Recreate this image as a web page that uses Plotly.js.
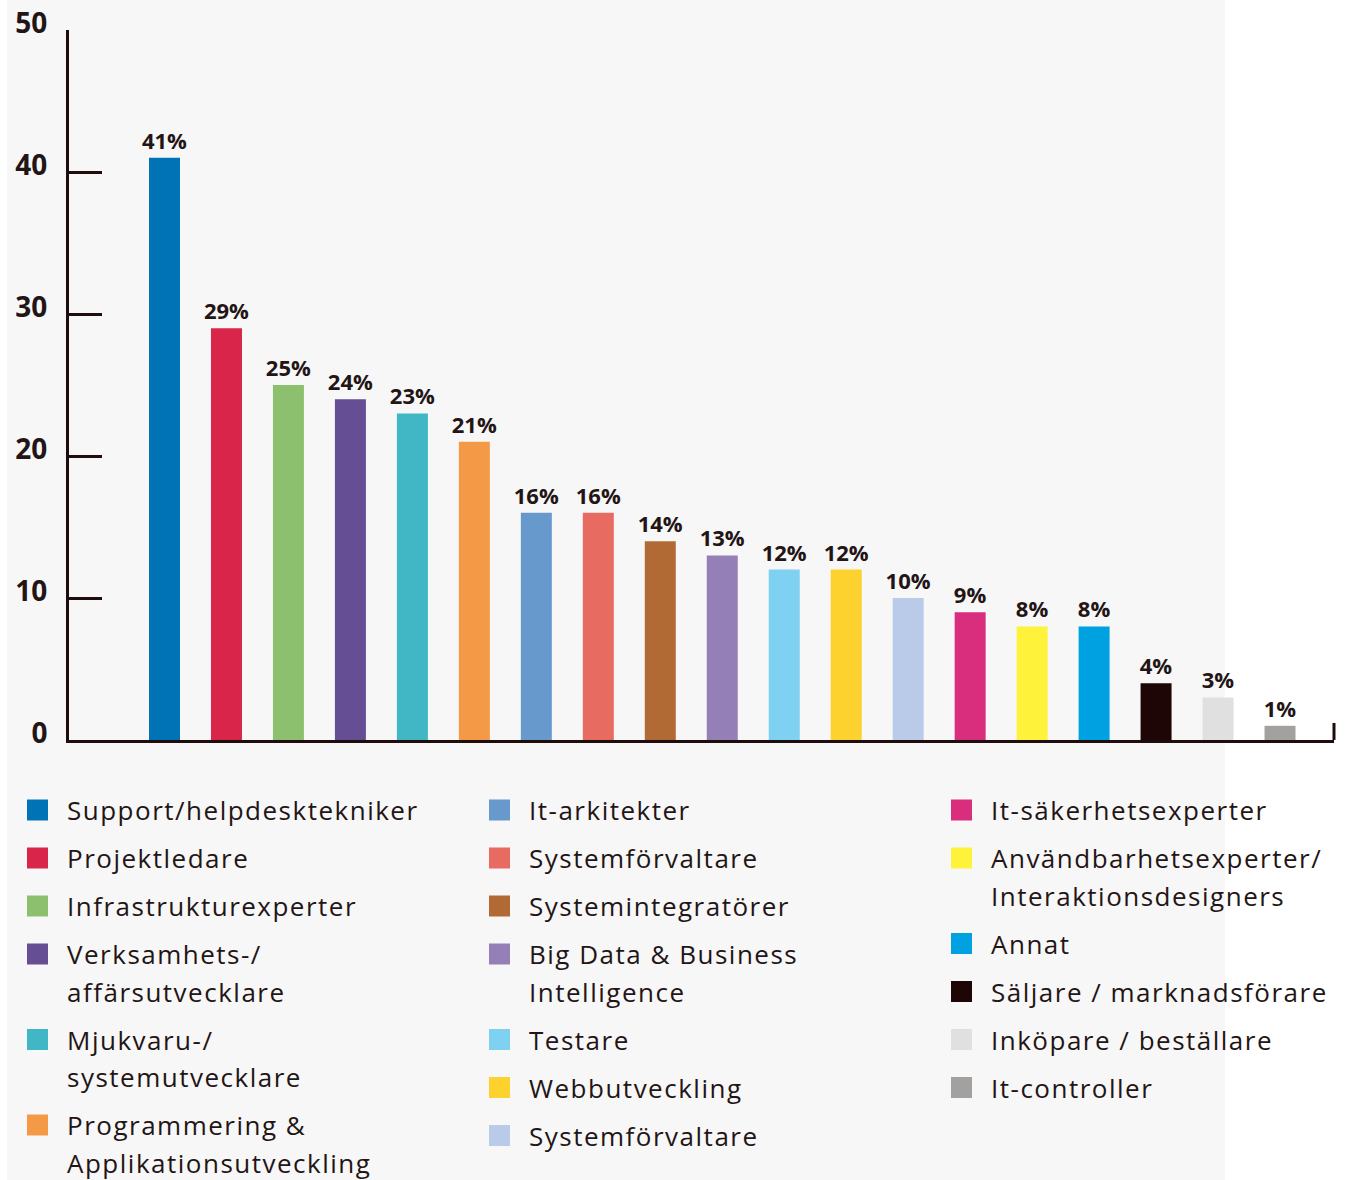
<!DOCTYPE html>
<html>
<head>
<meta charset="utf-8">
<script src="https://cdn.plot.ly/plotly-3.0.1.min.js"></script>
<style>
  html, body { margin: 0; padding: 0; background: #ffffff; }
  #chart { width: 1349px; height: 1180px; }
  .annotation-text { letter-spacing: 1.5px; }
</style>
</head>
<body>
<div id="chart"></div>
<script>
// ---- data ----
var categories = [
  "Support/helpdesktekniker",
  "Projektledare",
  "Infrastrukturexperter",
  "Verksamhets-/<br>affärsutvecklare",
  "Mjukvaru-/<br>systemutvecklare",
  "Programmering &<br>Applikationsutveckling",
  "It-arkitekter",
  "Systemförvaltare",
  "Systemintegratörer",
  "Big Data & Business<br>Intelligence",
  "Testare",
  "Webbutveckling",
  "Systemförvaltare",
  "It-säkerhetsexperter",
  "Användbarhetsexperter/<br>Interaktionsdesigners",
  "Annat",
  "Säljare / marknadsförare",
  "Inköpare / beställare",
  "It-controller"
];
var values = [41, 29, 25, 24, 23, 21, 16, 16, 14, 13, 12, 12, 10, 9, 8, 8, 4, 3, 1];
var colors = [
  "#0072b6", "#d9254a", "#8cc06f", "#654e93", "#41b7c5", "#f49a46",
  "#6799cc", "#e86b62", "#b26a35", "#9480b7", "#7fd1f2", "#fdd12e",
  "#b9cbe8", "#d92d7e", "#fff23a", "#00a1e0", "#1f0606", "#e0e0e0", "#a3a19f"
];
var legendColumn = [0, 0, 0, 0, 0, 0, 1, 1, 1, 1, 1, 1, 1, 2, 2, 2, 2, 2, 2];
var yTicks = [0, 10, 20, 30, 40, 50];

// ---- layout geometry ----
var W = 1349, H = 1180;
var mL = 69, mR = 15, mT = 30, mB = 440;
var pw = W - mL - mR, ph = H - mT - mB;
function px2x(p) { return (p - mL) / pw; }
function py2y(p) { return (H - mB - p) / ph; }

var ink = "#231515";
var axisInk = "#1f0c0c";
var FONT = "'Open Sans', Lato, sans-serif";

var traces = categories.map(function (name, i) {
  return {
    type: "bar",
    name: name.replace("<br>", " "),
    x: [i],
    y: [values[i]],
    width: 0.5,
    marker: { color: colors[i], line: { width: 0 } },
    texttemplate: "%{y}%",
    textposition: "outside",
    constraintext: "none",
    textfont: { family: FONT, size: 22, color: ink, weight: "bold" },
    cliponaxis: false,
    showlegend: false,
    hoverinfo: "skip"
  };
});

// ---- legend (three columns, drawn as swatches + text) ----
var colSwatchX = [27, 489, 951];
var colTextX = [66, 528, 990];
var legendTop = 810, entryStep = 48, lineStep = 37.5, sw = 21;
var shapes = [
  {
    type: "rect", xref: "paper", yref: "paper", layer: "below",
    x0: px2x(7), x1: px2x(1225), y0: py2y(1180), y1: py2y(0),
    fillcolor: "#f7f7f7", line: { width: 0 }
  },
  {
    type: "line", xref: "paper", yref: "y",
    x0: 1, x1: 1, y0: 0, y1: 1.2,
    line: { color: axisInk, width: 3 }
  }
];
var annotations = [];
var cursor = [legendTop, legendTop, legendTop];
categories.forEach(function (name, i) {
  var c = legendColumn[i];
  var lines = name.split("<br>");
  var yc = cursor[c];
  shapes.push({
    type: "rect", xref: "paper", yref: "paper", layer: "above",
    x0: px2x(colSwatchX[c]), x1: px2x(colSwatchX[c] + sw),
    y0: py2y(yc + sw / 2), y1: py2y(yc - sw / 2),
    fillcolor: colors[i], line: { width: 0 }
  });
  lines.forEach(function (ln, j) {
    annotations.push({
      xref: "paper", yref: "paper",
      x: px2x(colTextX[c]), y: py2y(yc + j * lineStep),
      xanchor: "left", yanchor: "middle", align: "left",
      text: ln, showarrow: false, borderpad: 0,
      font: { family: FONT, size: 26, color: ink }
    });
  });
  cursor[c] += entryStep + (lines.length - 1) * lineStep;
});

var layout = {
  width: W, height: H,
  margin: { l: mL, r: mR, t: mT, b: mB, pad: 0, autoexpand: false },
  paper_bgcolor: "#ffffff",
  plot_bgcolor: "rgba(0,0,0,0)",
  barmode: "overlay",
  showlegend: false,
  font: { family: FONT, color: ink },
  xaxis: {
    range: [-1.541, 18.871],
    showgrid: false, zeroline: false,
    showticklabels: false, ticks: "",
    showline: true, linecolor: axisInk, linewidth: 3,
    fixedrange: true
  },
  yaxis: {
    range: [0, 50],
    tickvals: yTicks,
    ticktext: yTicks.map(String),
    ticks: "inside", ticklen: 33, tickwidth: 3, tickcolor: axisInk,
    showline: true, linecolor: axisInk, linewidth: 3,
    showgrid: false, zeroline: false,
    tickfont: { family: FONT, size: 28, color: ink, weight: "bold" },
    ticklabelstandoff: 13,
    ticklabelshift: -7,
    fixedrange: true
  },
  shapes: shapes,
  annotations: annotations
};

Plotly.newPlot("chart", traces, layout, { displayModeBar: false, staticPlot: true });
</script>
</body>
</html>
